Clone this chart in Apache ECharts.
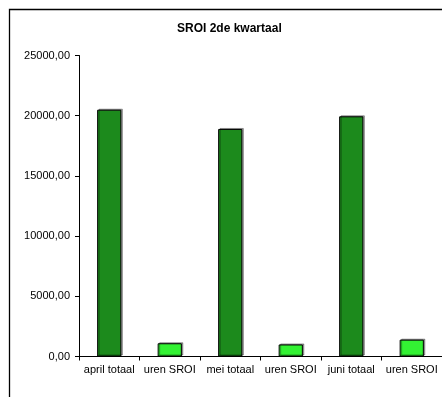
<!DOCTYPE html>
<html>
<head>
<meta charset="utf-8">
<script src="https://cdn.jsdelivr.net/npm/echarts@6/dist/echarts.min.js"></script>
<style>
  html, body { margin: 0; padding: 0; background: #fff; }
  #chart { width: 442px; height: 397px; }
</style>
</head>
<body>
<div id="chart"></div>
<script>
// Quarterly SROI figures: monthly totals alternating with SROI hours
const categories = ['april totaal', 'uren SROI', 'mei totaal', 'uren SROI', 'juni totaal', 'uren SROI'];
const values = [20500, 1100, 18900, 1000, 19950, 1400];
const kinds = ['totaal', 'uren', 'totaal', 'uren', 'totaal', 'uren'];
const yTicks = { min: 0, max: 25000, interval: 5000 };

const colors = { totaal: '#1c8a1c', uren: '#33f233' };

const chart = echarts.init(document.getElementById('chart'), null, { renderer: 'canvas' });

const fmt = v => v.toFixed(2).replace('.', ',');
const font = 'Liberation Sans, Arial, sans-serif';

chart.setOption({
  animation: false,
  backgroundColor: '#ffffff',
  title: {
    text: 'SROI 2de kwartaal',
    left: 177,
    top: 23,
    padding: 0,
    textStyle: { fontFamily: font, fontSize: 12, fontWeight: 'bold', color: '#000' }
  },
  graphic: [{
    type: 'rect',
    silent: true,
    shape: { x: 9.5, y: 9.5, width: 450, height: 420 },
    style: { fill: 'none', stroke: '#000', lineWidth: 1.3 },
    z: 100
  }],
  grid: { left: 79, top: 55.5, width: 367, height: 301 },
  xAxis: {
    type: 'category',
    data: categories,
    boundaryGap: true,
    axisLine: { lineStyle: { color: '#000', width: 1 } },
    axisTick: { show: true, length: 4, inside: false, lineStyle: { color: '#000' } },
    axisLabel: { fontFamily: font, fontSize: 11, color: '#000', margin: 8, interval: 0 }
  },
  yAxis: {
    type: 'value',
    min: yTicks.min,
    max: yTicks.max,
    interval: yTicks.interval,
    splitLine: { show: false },
    axisLine: { show: true, lineStyle: { color: '#000', width: 1 } },
    axisTick: { show: true, length: 4, lineStyle: { color: '#000' } },
    axisLabel: { formatter: fmt, fontFamily: font, fontSize: 11, color: '#000', margin: 9 }
  },
  series: [{
    type: 'bar',
    barWidth: '40%',
    data: values.map((v, i) => ({
      value: v,
      itemStyle: { color: colors[kinds[i]] }
    })),
    itemStyle: {
      borderColor: '#000',
      borderWidth: 1,
      shadowColor: 'rgba(0,0,0,0.35)',
      shadowOffsetX: 1.5,
      shadowOffsetY: -1,
      shadowBlur: 0
    }
  }]
});
</script>
</body>
</html>
